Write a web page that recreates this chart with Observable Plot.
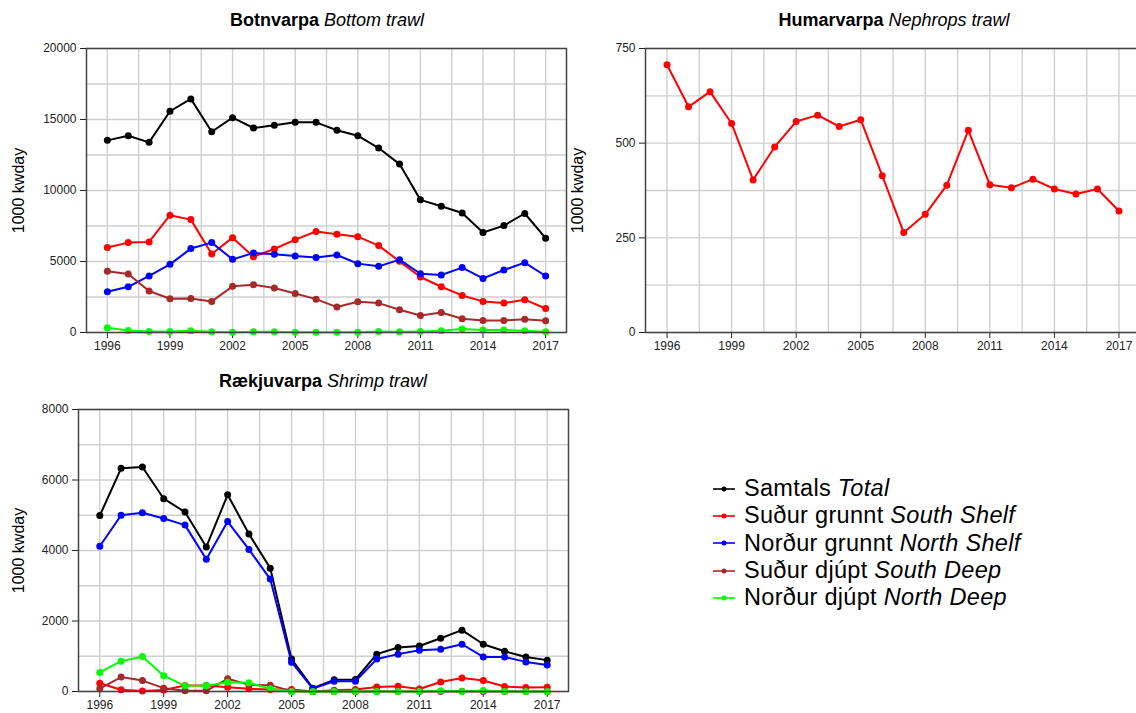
<!DOCTYPE html>
<html><head><meta charset="utf-8">
<script src="https://cdn.jsdelivr.net/npm/d3@7"></script>
<script src="https://cdn.jsdelivr.net/npm/@observablehq/plot@0.6"></script>
<style>
body{margin:0;background:#fff;overflow:hidden;font-family:"Liberation Sans",Arial,sans-serif}
#root{position:relative;width:1136px;height:713px;overflow:hidden;background:#fff}
.panel{position:absolute}
.title{position:absolute;font-size:18px;line-height:20px;white-space:nowrap;transform:translateX(-50%);color:#000}
.title b{font-weight:bold}
.title i{font-style:italic}
.legend{position:absolute;left:713px;top:475px;font-size:23.5px;line-height:27.3px;letter-spacing:0.3px;color:#000}
.legend .row{display:flex;align-items:center;height:27.3px;white-space:nowrap}
.legend svg{margin-right:9px;flex:none}
</style>
</head><body>
<div id="root"></div>
<script>
// ---- data ----
const years = [1996,1997,1998,1999,2000,2001,2002,2003,2004,2005,2006,2007,2008,2009,2010,2011,2012,2013,2014,2015,2016,2017];
const xTicks = [1996,1999,2002,2005,2008,2011,2014,2017];
const xGrid = [1996,1997.5,1999,2000.5,2002,2003.5,2005,2006.5,2008,2009.5,2011,2012.5,2014,2015.5,2017];

const seriesKeys = ["total","southShelf","northShelf","southDeep","northDeep"];
const seriesIs = ["Samtals","Suður grunnt","Norður grunnt","Suður djúpt","Norður djúpt"];
const seriesEn = ["Total","South Shelf","North Shelf","South Deep","North Deep"];
const seriesColors = ["#000000","#ff0000","#0000ff","#a52a2a","#00ff00"];

// Botnvarpa / Bottom trawl
const btTotal      = [13530,13860,13390,15580,16450,14140,15130,14400,14590,14800,14800,14240,13860,12990,11860,9340,8890,8420,7040,7530,8380,6640];
const btSouthShelf = [5980,6330,6380,8260,7950,5530,6680,5340,5880,6540,7110,6920,6750,6120,5010,3910,3220,2610,2190,2070,2310,1690];
const btNorthShelf = [2870,3220,3980,4800,5910,6330,5150,5600,5510,5390,5290,5460,4850,4660,5130,4140,4050,4570,3810,4400,4920,3980];
const btSouthDeep  = [4310,4120,2920,2380,2400,2190,3250,3370,3130,2750,2350,1790,2170,2070,1600,1200,1410,970,850,850,940,820];
const btNorthDeep  = [330,140,70,70,120,50,20,50,50,20,20,20,20,70,50,70,120,240,170,170,120,50];

// Humarvarpa / Nephrops trawl
const ntSouthShelf = [707,596,636,552,403,490,557,574,544,562,414,264,312,389,534,390,382,405,379,366,379,321];

// Rækjuvarpa / Shrimp trawl
const stTotal      = [4990,6330,6370,5470,5090,4100,5580,4470,3500,920,95,330,340,1060,1250,1290,1510,1740,1340,1140,980,890];
const stNorthShelf = [4120,5000,5070,4910,4720,3750,4820,4030,3190,830,80,290,290,920,1060,1170,1200,1340,980,980,840,750];
const stSouthShelf = [235,50,15,40,170,170,120,75,55,55,0,38,56,130,150,70,270,380,310,140,110,120];
const stSouthDeep  = [80,410,310,95,20,20,360,190,180,10,0,0,0,0,0,0,0,10,0,0,0,0];
const stNorthDeep  = [540,860,990,450,160,160,260,250,75,0,0,0,0,0,0,0,20,0,30,0,0,0];

const titles = [
  ["Botnvarpa","Bottom trawl"],
  ["Humarvarpa","Nephrops trawl"],
  ["Rækjuvarpa","Shrimp trawl"]
];
const yLabel = "1000 kwday";

// ---- helpers ----
function tidy(obj){
  const out = [];
  for (const k of seriesKeys){
    if (!obj[k]) continue;
    obj[k].forEach((v,i)=>out.push({series:k, year:years[i], value:v}));
  }
  return out;
}

const root = document.getElementById("root");
const gridColor = "#cfcfcf";

function panel({series, yDomain, yTicks, yGrid, left, top, width, height, marginLeft, marginTop, marginBottom}){
  const data = tidy(series);
  const marks = [
    Plot.ruleX(xGrid, {stroke:gridColor, strokeWidth:1.4}),
    Plot.ruleY(yGrid, {stroke:gridColor, strokeWidth:1.4}),
    Plot.axisX(xTicks, {tickFormat:d=>String(d), tickSize:6, tickPadding:3, label:null, fontSize:12}),
    Plot.axisY(yTicks, {tickFormat:d=>String(d), tickSize:6, tickPadding:4, label:null, fontSize:12}),
  ];
  for (const k of seriesKeys){
    if (!series[k]) continue;
    const d = data.filter(r=>r.series===k);
    marks.push(Plot.line(d, {x:"year", y:"value", stroke:"series", strokeWidth:2}));
    marks.push(Plot.dot(d, {x:"year", y:"value", fill:"series", r:3.5}));
  }
  marks.push(Plot.frame({stroke:"#444", strokeWidth:1.5}));
  marks.push(Plot.text([yLabel], {frameAnchor:"left", dx:-(marginLeft-18), rotate:-90, textAnchor:"middle", lineAnchor:"middle", fontSize:16, fill:"#000"}));
  const svg = Plot.plot({
    width, height, marginLeft, marginRight:2, marginTop, marginBottom,
    x:{domain:[1995,2018], label:null},
    y:{domain:yDomain, label:null},
    color:{domain:seriesKeys, range:seriesColors},
    style:{fontFamily:'"Liberation Sans",Arial,sans-serif', fontSize:"12px", color:"#222", background:"transparent", overflow:"visible"},
    marks
  });
  svg.classList.add("panel");
  svg.style.left = left+"px";
  svg.style.top = top+"px";
  root.appendChild(svg);
}

function title(t, cx, cy){
  const d = document.createElement("div");
  d.className = "title";
  d.style.left = cx+"px";
  d.style.top = (cy-10)+"px";
  const b = document.createElement("b"); b.textContent = t[0];
  const i = document.createElement("i"); i.textContent = t[1];
  d.appendChild(b); d.appendChild(document.createTextNode(" ")); d.appendChild(i);
  root.appendChild(d);
}

panel({
  series:{total:btTotal, southShelf:btSouthShelf, northShelf:btNorthShelf, southDeep:btSouthDeep, northDeep:btNorthDeep},
  yDomain:[0,20000], yTicks:[0,5000,10000,15000,20000], yGrid:d3.range(0,20001,2500),
  left:0, top:0, width:568, height:362, marginLeft:86, marginTop:48, marginBottom:30
});
panel({
  series:{southShelf:ntSouthShelf},
  yDomain:[0,750], yTicks:[0,250,500,750], yGrid:d3.range(0,751,125),
  left:559, top:0, width:583, height:362, marginLeft:86, marginTop:48, marginBottom:30
});
panel({
  series:{total:stTotal, southShelf:stSouthShelf, northShelf:stNorthShelf, southDeep:stSouthDeep, northDeep:stNorthDeep},
  yDomain:[0,8000], yTicks:[0,2000,4000,6000,8000], yGrid:d3.range(0,8001,1000),
  left:0, top:360, width:570, height:353, marginLeft:78, marginTop:49, marginBottom:22
});

title(titles[0], 327, 20);
title(titles[1], 894, 20);
title(titles[2], 323, 381);

// legend
const lg = document.createElement("div");
lg.className = "legend";
seriesKeys.forEach((k,i)=>{
  const row = document.createElement("div"); row.className = "row";
  const ns = "http://www.w3.org/2000/svg";
  const s = document.createElementNS(ns,"svg");
  s.setAttribute("width","22"); s.setAttribute("height","10");
  const ln = document.createElementNS(ns,"line");
  ln.setAttribute("x1","0"); ln.setAttribute("x2","22"); ln.setAttribute("y1","5"); ln.setAttribute("y2","5");
  ln.setAttribute("stroke",seriesColors[i]); ln.setAttribute("stroke-width","1.6");
  const c = document.createElementNS(ns,"circle");
  c.setAttribute("cx","11"); c.setAttribute("cy","5"); c.setAttribute("r","2.5"); c.setAttribute("fill",seriesColors[i]);
  s.appendChild(ln); s.appendChild(c);
  row.appendChild(s);
  const t = document.createElement("span");
  t.appendChild(document.createTextNode(seriesIs[i]+" "));
  const it = document.createElement("i"); it.textContent = seriesEn[i];
  t.appendChild(it);
  row.appendChild(t);
  lg.appendChild(row);
});
root.appendChild(lg);
</script>
</body></html>
